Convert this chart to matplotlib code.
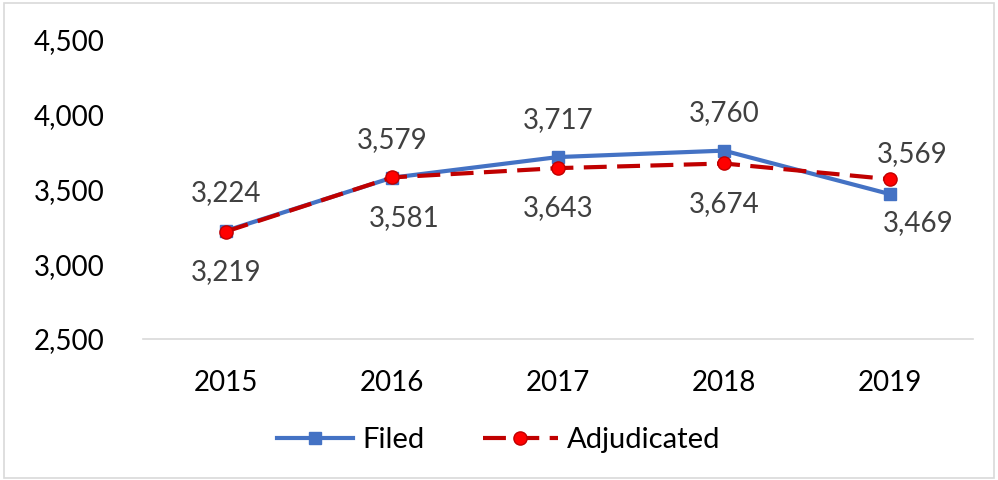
import matplotlib
matplotlib.use("Agg")
import matplotlib.pyplot as plt
from matplotlib.ticker import FuncFormatter

years = ["2015", "2016", "2017", "2018", "2019"]
filed = [3224, 3579, 3717, 3760, 3469]
adjudicated = [3219, 3581, 3643, 3674, 3569]
filed_label_pos = ["above", "above", "above", "above", "below"]
adj_label_pos = ["below", "below", "below", "below", "above"]

plt.rcParams['font.family'] = ['Lato', 'DejaVu Sans']

fig = plt.figure(figsize=(9.98, 4.8), dpi=100)
ax = fig.add_axes([143/998, 1 - 339/480, (973-143)/998, (339-40)/480])

x = list(range(len(years)))
ax.plot(x, filed, color="#4472C4", lw=3, marker="s", ms=9, label="Filed", zorder=3)
ax.plot(x, adjudicated, color="#C00000", lw=3, ls=(0, (5.5, 2.5)), marker="o", ms=9.5,
        markerfacecolor="#FF0000", markeredgecolor="#C00000", label="Adjudicated", zorder=4)

for i, (v, p) in enumerate(zip(filed, filed_label_pos)):
    dx = 0 if i < 4 else 20
    dy = 27 if p == "above" else -21
    ax.annotate(f"{v:,}", (i, v), xytext=(dx, dy), textcoords="offset points",
                ha="center", va="center", fontsize=20, color="#404040")
for i, (v, p) in enumerate(zip(adjudicated, adj_label_pos)):
    dx = 0 if i < 4 else 16
    if i == 1:
        dx = 9
    dy = 18 if p == "above" else -29
    ax.annotate(f"{v:,}", (i, v), xytext=(dx, dy), textcoords="offset points",
                ha="center", va="center", fontsize=20, color="#404040")

ax.set_xlim(-0.5, 4.5)
ax.set_ylim(2500, 4500)
ax.set_yticks([2500, 3000, 3500, 4000, 4500])
ax.yaxis.set_major_formatter(FuncFormatter(lambda v, p: f"{int(v):,}"))
ax.set_xticks(x)
ax.set_xticklabels(years)
ax.tick_params(axis="both", length=0, labelsize=20, colors="black")
ax.tick_params(axis="y", pad=28)
ax.tick_params(axis="x", pad=22)
for s in ["top", "right", "left"]:
    ax.spines[s].set_visible(False)
ax.spines["bottom"].set_color("#D9D9D9")
ax.spines["bottom"].set_linewidth(1.2)

leg = fig.legend(loc="center", bbox_to_anchor=(0.5, 1 - 440/480), ncol=2, frameon=False,
                 fontsize=21, handlelength=2.6, columnspacing=2.0, handletextpad=0.3)

fig.patches.append(plt.Rectangle((0.004, 0.004), 0.992, 0.99, transform=fig.transFigure,
                                 fill=False, edgecolor="#D9D9D9", lw=1.2))

fig.savefig("out.png", dpi=100)
